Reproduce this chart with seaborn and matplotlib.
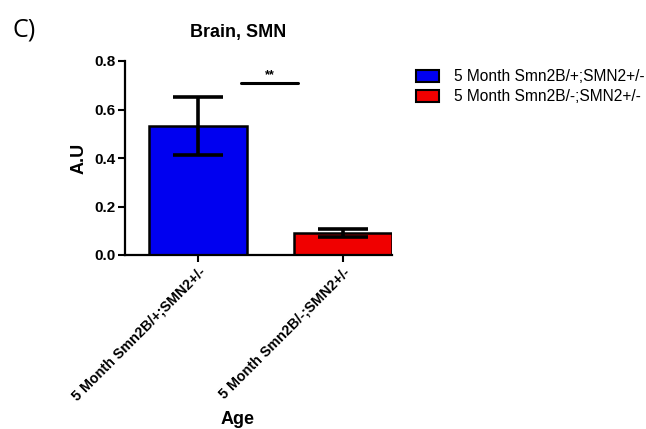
import matplotlib
matplotlib.use("Agg")
import matplotlib.pyplot as plt
import seaborn as sns
import pandas as pd
from matplotlib.patches import Patch

groups = ["5 Month Smn2B/+;SMN2+/-", "5 Month Smn2B/-;SMN2+/-"]
means = [0.532, 0.092]
errors = [0.12, 0.017]
colors = ["#0000f0", "#f00000"]
yticks = [0.0, 0.2, 0.4, 0.6, 0.8]

df = pd.DataFrame({"group": groups, "value": means})

sns.set_style("white")
plt.rcParams["font.family"] = ["Liberation Sans", "DejaVu Sans"]
plt.rcParams["text.color"] = "black"
plt.rcParams["axes.labelcolor"] = "black"
plt.rcParams["xtick.color"] = "black"
plt.rcParams["ytick.color"] = "black"

fig = plt.figure(figsize=(6.46, 4.29), dpi=100)
W, H = 646, 429
# axes spans pixels x 125..392, y 61..255
ax = fig.add_axes([125 / W, 1 - 255 / H, (392 - 125) / W, (255 - 61) / H])

sns.barplot(data=df, x="group", y="value", hue="group", palette=colors,
            width=0.676, edgecolor="black", linewidth=1.8, legend=False,
            errorbar=None, ax=ax, saturation=1)

xs = [p.get_x() + p.get_width() / 2 for p in ax.patches]
ax.errorbar(xs, means, yerr=errors, fmt="none", ecolor="black",
            elinewidth=2.6, capsize=18, capthick=2.6, zorder=5)

# significance bar
ax.plot([0.30, 0.69], [0.708, 0.708], color="black", lw=2.2, clip_on=False)
ax.text(0.495, 0.715, "**", ha="center", va="bottom", fontsize=9, fontweight="bold")

ax.set_xlim(-0.503, 1.338)
ax.set_ylim(0, 0.8)
ax.set_yticks(yticks)
ax.set_yticklabels([f"{t:.1f}" for t in yticks], fontsize=11, fontweight="bold")
ax.set_xticks(range(len(groups)))
ax.set_xticklabels(groups, rotation=45, ha="right", rotation_mode="anchor",
                   fontsize=10.3, fontweight="bold")
ax.tick_params(axis="both", which="major", direction="out", length=5, width=1.5,
               color="black", labelcolor="black", left=True, bottom=True, pad=2)
for s in ["top", "right"]:
    ax.spines[s].set_visible(False)
for s in ["left", "bottom"]:
    ax.spines[s].set_linewidth(1.6)
    ax.spines[s].set_color("black")

ax.set_ylabel("A.U", fontsize=13, fontweight="bold", labelpad=5)
ax.set_xlabel("Age", fontsize=13, fontweight="bold")
ax.xaxis.set_label_coords((238 - 125) / (392 - 125), -(411 - 255) / (255 - 61))

fig.text(238 / W, 1 - 33 / H, "Brain, SMN", ha="center", va="center",
         fontsize=13, fontweight="bold")
fig.text(12 / W, 1 - 30 / H, "C)", ha="left", va="center", fontsize=18,
         family=["Open Sans", "DejaVu Sans"])

handles = [Patch(facecolor=c, edgecolor="black", linewidth=1.5) for c in colors]
fig.legend(handles, groups, loc="upper left", bbox_to_anchor=(402 / W, 1 - 55 / H),
           frameon=False, fontsize=11.2, handlelength=1.5, handleheight=0.8,
           labelspacing=0.35, handletextpad=0.95)

fig.savefig("out.png", dpi=100, facecolor="white")
